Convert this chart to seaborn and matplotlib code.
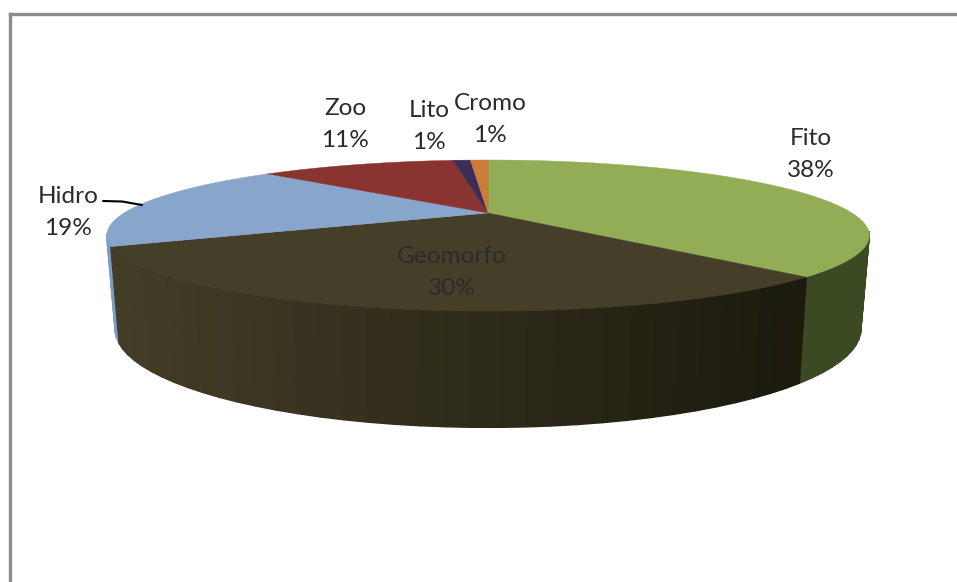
import numpy as np
import matplotlib
matplotlib.use("Agg")
import matplotlib.pyplot as plt
import matplotlib.colors as mc
import seaborn as sns

# ---- data ----
categories = ["Fito", "Geomorfo", "Hidro", "Zoo", "Lito", "Cromo"]
values = [38, 30, 19, 11, 1, 1]
top_colors = ["#92ad56", "#453e28", "#88a5cc", "#8a3432", "#3b2d55", "#cc7b39"]
side_left = ["#404f26", "#443d27", "#7b9bc8", "#6b2826", "#2d2242", "#9c5c2a"]
side_right = ["#3b4a22", "#1b1a0e", "#7b9bc8", "#6b2826", "#2d2242", "#9c5c2a"]

# ---- placement (label centres, pixels) ----
label_xy = {"Fito": (811, 154.5), "Geomorfo": (452, 272.5), "Hidro": (68, 212.5),
            "Zoo": (345, 124.5), "Lito": (429, 126.5), "Cromo": (490, 119.5)}

# ---- projection of the disc into the picture ----
CX, APEX_Y = 488.0, 213.0
K, AY, BX = 0.298, 68.8, 364.0
BOTTOM_SCALE_X, BOTTOM_SCALE_Y, BOTTOM_Y = 0.978, 1.30, 300.0


def top_plane(th):
    x, y = np.cos(th), np.sin(th)
    d = 1 + K * y
    return CX + BX * x / d, APEX_Y - AY * y / d


def bottom_plane(th):
    x, y = np.cos(th), np.sin(th)
    d = 1 + K * y
    return CX + BOTTOM_SCALE_X * BX * x / d, BOTTOM_Y - BOTTOM_SCALE_Y * AY * y / d


sns.set_theme(style="white")
plt.rcParams["font.family"] = ["Lato", "DejaVu Sans"]

W, H = 957, 582
fig = plt.figure(figsize=(W / 100, H / 100), dpi=100, facecolor="white")
left, top = 9.5, 13.5
ax = fig.add_axes([left / W, 0, (W - left) / W, (H - top) / H])
ax.set_xlim(left, W)
ax.set_ylim(H, top)
ax.set_xticks([])
ax.set_yticks([])
for s in ("right", "bottom"):
    ax.spines[s].set_visible(False)
for s in ("left", "top"):
    ax.spines[s].set_color("#8c8c8c")
    ax.spines[s].set_linewidth(2.4)

# slice angles, clockwise from 12 o'clock
fracs = np.array(values, dtype=float) / sum(values)
ends = np.cumsum(fracs)
starts = ends - fracs
angle = lambda f: np.pi / 2 - 2 * np.pi * f

# side wall, painted back to front (only the part below the widest rim point)
quads = []
for i, (a, b) in enumerate(zip(starts, ends)):
    n = max(4, int(round((b - a) * 120)))
    edges = np.linspace(angle(a), angle(b), n + 1)
    for t0, t1 in zip(edges[:-1], edges[1:]):
        if np.sin((t0 + t1) / 2) > -K + 0.03:
            continue
        x0, y0 = top_plane(t0)
        x1, y1 = top_plane(t1)
        x2, y2 = bottom_plane(t1)
        x3, y3 = bottom_plane(t0)
        quads.append(((y0 + y1) / 2, i, [x0, x1, x2, x3], [y0, y1, y2, y3]))
quads.sort(key=lambda q: q[0])
for _, i, xs, ys in quads:
    t = np.clip((np.mean(xs) - 107) / 700, 0, 1)
    c = (1 - t) * np.array(mc.to_rgb(side_left[i])) + t * np.array(mc.to_rgb(side_right[i]))
    ax.fill(xs, ys, facecolor=c, edgecolor=c, linewidth=1.0, zorder=2)

# top faces
for i, (a, b) in enumerate(zip(starts, ends)):
    th = np.linspace(angle(a), angle(b), 200)
    x, y = top_plane(th)
    ax.fill(np.r_[CX, x], np.r_[APEX_Y, y], facecolor=top_colors[i],
            edgecolor=top_colors[i], linewidth=0.3, zorder=3)

# labels
for name, v in zip(categories, values):
    lx, ly = label_xy[name]
    ax.text(lx, ly, f"{name}\n{v}%", ha="center", va="center", fontsize=17.6,
            color="#2b2b2b", linespacing=1.7, zorder=5)

# leader line for Hidro
ax.plot([103, 122, 142], [201, 201.5, 205], color="black", lw=1.5, zorder=4)

fig.savefig("out.png", dpi=100)
